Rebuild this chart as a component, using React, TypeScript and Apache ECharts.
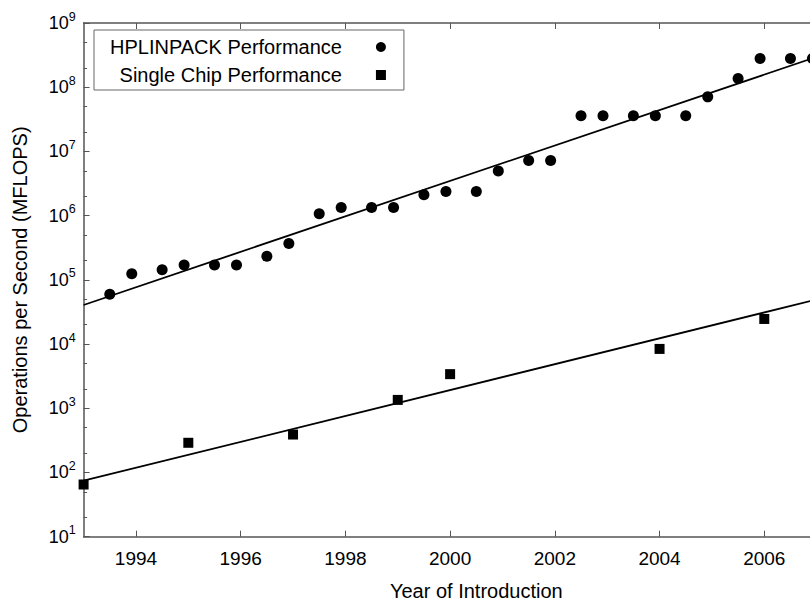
import React, { useEffect, useRef } from "react";
import * as echarts from "echarts";

// HPLINPACK (Top500 #1) performance, MFLOPS, by list date
const hplYears = [
  1993.5, 1993.92, 1994.5, 1994.92, 1995.5, 1995.92, 1996.5, 1996.92,
  1997.5, 1997.92, 1998.5, 1998.92, 1999.5, 1999.92, 2000.5, 2000.92,
  2001.5, 2001.92, 2002.5, 2002.92, 2003.5, 2003.92, 2004.5, 2004.92,
  2005.5, 2005.92, 2006.5, 2006.92,
];
const hplValues = [
  59700, 124000, 143400, 170000, 170400, 170400, 232400, 368200,
  1068000, 1338000, 1338000, 1338000, 2121000, 2379000, 2379000, 4938000,
  7226000, 7226000, 35860000, 35860000, 35860000, 35860000, 35860000, 70720000,
  136800000, 280600000, 280600000, 280600000,
];

// Single chip performance, MFLOPS
const chipYears = [1993, 1995, 1997, 1999, 2000, 2004, 2006];
const chipValues = [65, 290, 390, 1350, 3400, 8400, 24600];

// Trend lines (end points)
const fitYears = [1993, 2008];
const hplFit = [40600, 560000000];
const chipFit = [74.5, 78600];

// Ticks
const xTicks = [1994, 1996, 1998, 2000, 2002, 2004, 2006];
const decadeExponents = [1, 2, 3, 4, 5, 6, 7, 8, 9];
const minorMultipliers = [2, 5];

export default function App() {
  const ref = useRef<HTMLDivElement>(null);

  useEffect(() => {
    const chart = echarts.init(ref.current!, null, { renderer: "svg" });
    const font = "Liberation Sans, Arial, Helvetica, sans-serif";
    const axisColor = "#555";
    const minorTicks: number[] = [];
    decadeExponents.slice(0, -1).forEach((d) =>
      minorMultipliers.forEach((m) => minorTicks.push(d + Math.log10(m)))
    );

    const axisLine = { show: true, onZero: false, lineStyle: { color: axisColor, width: 1.5 } };

    chart.setOption({
      animation: false,
      backgroundColor: "#fff",
      grid: {
        left: 83.6,
        top: 23,
        width: 785.4,
        height: 513.7,
        containLabel: false,
        outerBoundsMode: "none",
      },
      legend: {
        data: [
          { name: "HPLINPACK Performance", icon: "circle" },
          { name: "Single Chip Performance", icon: "path://M0 0H10V10H0Z" },
        ],
        orient: "vertical",
        align: "right",
        left: 94,
        top: 30,
        itemWidth: 68,
        itemHeight: 10,
        itemGap: 8,
        padding: [7, 18, 5, 16],
        borderColor: "#666",
        borderWidth: 1,
        selectedMode: false,
        symbolKeepAspect: true,
        itemStyle: { color: "#000", opacity: 1 },
        textStyle: { fontSize: 20, color: "#000", fontFamily: font },
      },
      xAxis: [
        {
          type: "value",
          min: 1993,
          max: 2008,
          position: "bottom",
          axisLine,
          axisTick: { show: true, inside: true, length: 6, customValues: xTicks, lineStyle: { color: axisColor, width: 1 } },
          axisLabel: {
            customValues: xTicks,
            margin: 12,
            fontSize: 19,
            color: "#000",
            fontFamily: font,
            formatter: (v: number) => String(v),
          },
          splitLine: { show: false },
          name: "Year of Introduction",
          nameLocation: "middle",
          nameGap: 44,
          nameTextStyle: { fontSize: 20, color: "#000", fontFamily: font },
        },
        {
          type: "value",
          min: 1993,
          max: 2008,
          position: "top",
          axisLine,
          axisTick: { show: true, inside: true, length: 6, customValues: xTicks, lineStyle: { color: axisColor, width: 1 } },
          axisLabel: { show: false },
          splitLine: { show: false },
        },
      ],
      yAxis: [
        {
          type: "log",
          logBase: 10,
          min: 10,
          max: 1e9,
          position: "left",
          axisLine,
          axisTick: { show: false },
          axisLabel: { show: false },
          splitLine: { show: false },
          name: "Operations per Second (MFLOPS)",
          nameLocation: "middle",
          nameRotate: 90,
          nameGap: 54,
          nameTextStyle: { fontSize: 20, color: "#000", fontFamily: font },
        },
        {
          type: "value",
          min: 1,
          max: 9,
          interval: 1,
          position: "left",
          axisLine: { show: false },
          axisTick: { show: true, inside: true, length: 6, lineStyle: { color: axisColor, width: 1 } },
          splitLine: { show: false },
          axisLabel: {
            margin: 8,
            padding: [0, 0, 4, 0],
            formatter: (v: number) => `{b|10}{s|${v}}`,
            rich: {
              b: { fontSize: 18, lineHeight: 22, verticalAlign: "bottom", fontFamily: font, color: "#000" },
              s: { fontSize: 12.5, lineHeight: 12.5, verticalAlign: "top", fontFamily: font, color: "#000" },
            },
          },
        },
        {
          type: "value",
          min: 1,
          max: 9,
          position: "left",
          axisLine: { show: false },
          axisTick: { show: true, inside: true, length: 3.5, customValues: minorTicks, lineStyle: { color: axisColor, width: 1 } },
          axisLabel: { show: false },
          splitLine: { show: false },
        },
      ],
      series: [
        {
          type: "line",
          name: "HPL trend",
          xAxisIndex: 0,
          yAxisIndex: 0,
          data: fitYears.map((y, i) => [y, hplFit[i]]),
          symbol: "none",
          lineStyle: { color: "#000", width: 1.8 },
          silent: true,
          z: 1,
        },
        {
          type: "line",
          name: "Chip trend",
          xAxisIndex: 0,
          yAxisIndex: 0,
          data: fitYears.map((y, i) => [y, chipFit[i]]),
          symbol: "none",
          lineStyle: { color: "#000", width: 1.8 },
          silent: true,
          z: 1,
        },
        {
          type: "scatter",
          name: "HPLINPACK Performance",
          xAxisIndex: 0,
          yAxisIndex: 0,
          data: hplYears.map((y, i) => [y, hplValues[i]]),
          symbol: "circle",
          symbolSize: 11,
          itemStyle: { color: "#000", opacity: 1 },
          z: 3,
        },
        {
          type: "scatter",
          name: "Single Chip Performance",
          xAxisIndex: 0,
          yAxisIndex: 0,
          data: chipYears.map((y, i) => [y, chipValues[i]]),
          symbol: "rect",
          symbolSize: 10,
          itemStyle: { color: "#000", opacity: 1 },
          z: 3,
        },
      ],
    });

    return () => chart.dispose();
  }, []);

  return (
    <div
      ref={ref}
      style={{ position: "fixed", left: 0, top: 0, width: 810, height: 601 }}
    />
  );
}
